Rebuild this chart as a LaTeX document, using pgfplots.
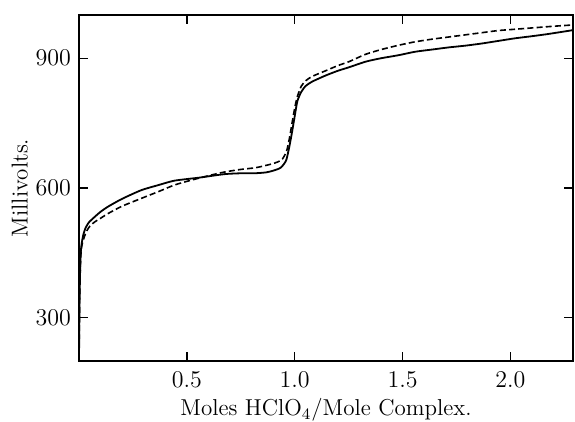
\documentclass[border=0pt]{standalone}
\usepackage{pgfplots}
\pgfplotsset{compat=1.18}

\begin{document}
\begin{tikzpicture}
\useasboundingbox (-39.5pt,-30.5pt) rectangle (248pt,180.5pt);
\begin{axis}[
    scale only axis,
    width=247pt, height=173pt,
    xmin=0, xmax=2.29,
    ymin=200, ymax=1000,
    xtick={0.5,1.0,1.5,2.0},
    ytick={300,600,900},
    xticklabel style={yshift=-2pt,
        /pgf/number format/fixed,
        /pgf/number format/fixed zerofill,
        /pgf/number format/precision=1},
    ticklabel style={font=\fontsize{12.5}{14}\selectfont},
    yticklabel style={xshift=-0.5pt},
    tick align=inside,
    major tick length=4.5pt,
    axis line style={line width=0.7pt},
    tick style={line width=0.7pt, black},
    xlabel={Moles HClO$_4$/Mole Complex.},
    ylabel={Millivolts.},
    label style={font=\fontsize{11.5}{13}\selectfont},
    xlabel style={yshift=1.5pt},
    ylabel style={yshift=-3pt},
]
% solid curve
\addplot[black, line width=0.9pt, smooth, tension=0.4] coordinates {
 (0.0,205) (0.003,350) (0.007,440) (0.012,470) (0.02,492) (0.03,507)
 (0.045,520) (0.07,532) (0.1,545) (0.135,557) (0.2,575) (0.289,595)
 (0.37,607) (0.443,617) (0.558,624) (0.674,632) (0.75,634) (0.812,634)
 (0.866,636) (0.9,640) (0.935,647) (0.961,665) (0.981,711) (0.997,757)
 (1.012,800) (1.03,822) (1.051,836) (1.081,846) (1.143,860) (1.2,871)
 (1.251,879) (1.328,892) (1.4,900) (1.481,907) (1.558,915) (1.635,920)
 (1.712,925) (1.789,929) (1.866,934) (1.943,940) (2.02,946) (2.1,951)
 (2.174,956) (2.29,965)
};
% dashed curve
\addplot[black, line width=0.8pt, dash pattern=on 3pt off 1.6pt, smooth, tension=0.4] coordinates {
 (0.0,205) (0.004,380) (0.01,455) (0.02,480) (0.035,500) (0.051,512)
 (0.074,522) (0.1,530) (0.135,541) (0.2,558) (0.289,576) (0.37,592)
 (0.443,607) (0.52,618) (0.597,628) (0.675,637) (0.751,643) (0.82,647)
 (0.889,655) (0.92,660) (0.943,667) (0.962,685) (0.974,711) (0.99,757)
 (1.002,790) (1.012,811) (1.03,835) (1.051,848) (1.081,858) (1.143,871)
 (1.2,883) (1.251,892) (1.328,909) (1.4,920) (1.481,930) (1.558,938)
 (1.635,944) (1.712,949) (1.789,954) (1.866,959) (1.943,964) (2.02,967)
 (2.097,970) (2.2,974) (2.29,977)
};
\end{axis}
\end{tikzpicture}
\end{document}
